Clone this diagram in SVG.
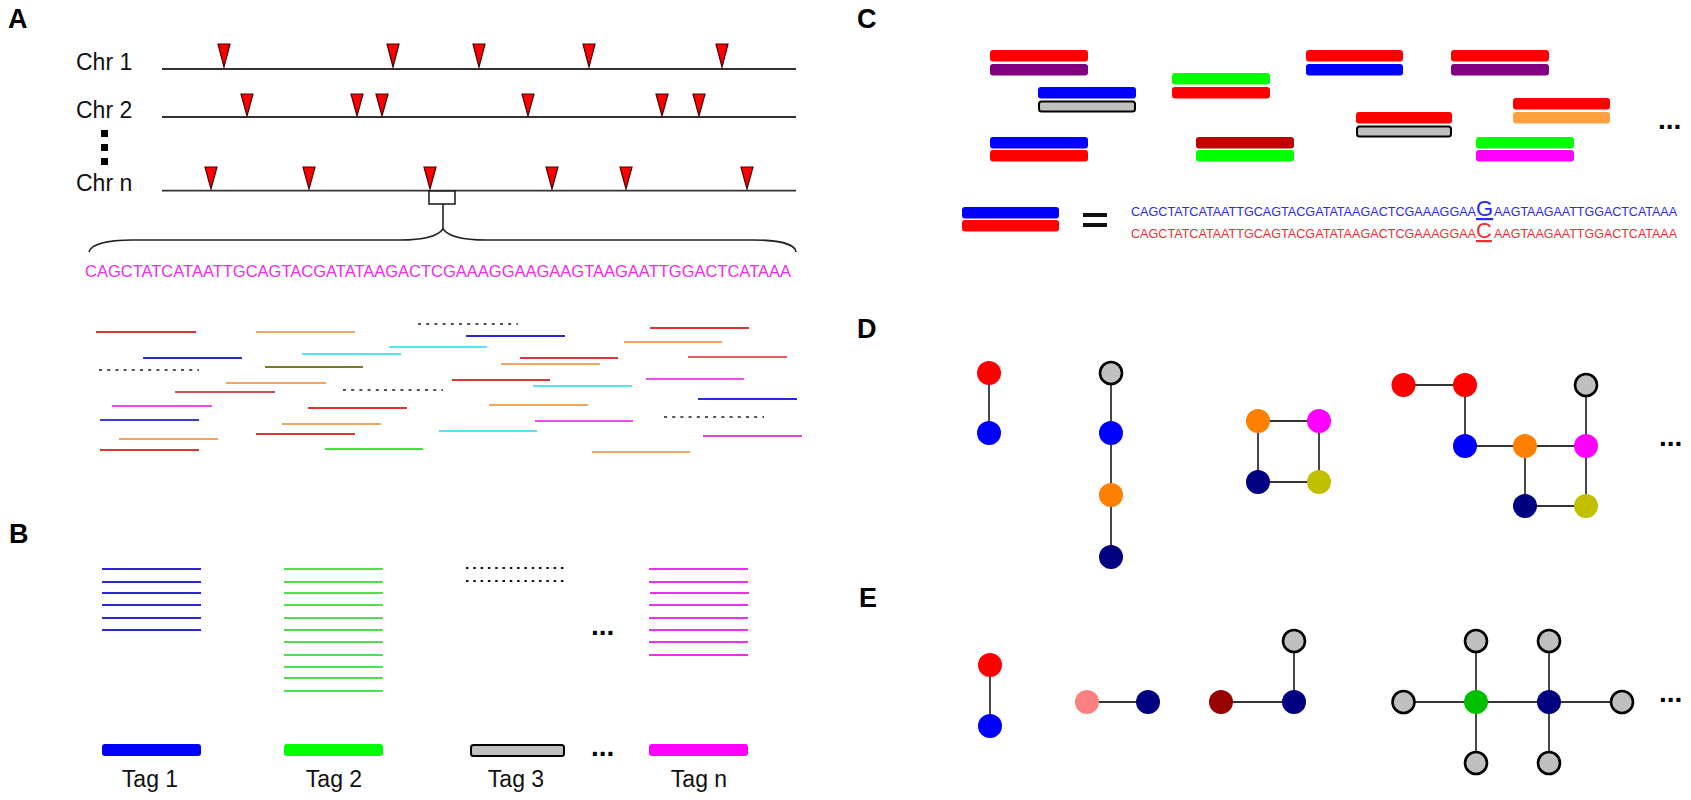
<svg xmlns="http://www.w3.org/2000/svg" width="1691" height="800" viewBox="0 0 1691 800">
<defs>
<style>
text{font-family:"Liberation Sans",Arial,sans-serif;}
.lbl{font-size:27px;font-weight:bold;fill:#000;}
.chr{font-size:23px;fill:#111;}
.tag{font-size:23px;fill:#111;text-anchor:middle;}
.dots{font-size:28px;font-weight:bold;fill:#000;}
.chrline{stroke:#333;stroke-width:1.8;fill:none;}
.tri{fill:#ff0000;stroke:#4a0000;stroke-width:1.2;stroke-linejoin:miter;}
.rd{stroke-width:2;fill:none;}
.dot{stroke:#555;stroke-width:2;stroke-dasharray:3 5.2;fill:none;}
.bl{stroke-width:1.8;fill:none;}
.bdot{stroke:#111;stroke-width:1.8;stroke-dasharray:2.5 4.8;fill:none;}
.bar{stroke:none;}
.gbar{fill:#c0c0c0;stroke:#000;stroke-width:2;}
.edge{stroke:#333;stroke-width:1.8;}
.gnode{fill:#c0c0c0;stroke:#000;stroke-width:2.6;}
</style>
</defs>
<rect width="1691" height="800" fill="#fff"/>

<!-- Panel labels -->
<g id="labels">
<text class="lbl" x="8" y="28">A</text>
<text class="lbl" x="9" y="543">B</text>
<text class="lbl" x="857" y="28">C</text>
<text class="lbl" x="857" y="338">D</text>
<text class="lbl" x="859" y="607">E</text>
</g>

<!-- Panel A: chromosomes -->
<g id="chromosomes">
<text class="chr" x="76" y="70">Chr 1</text>
<text class="chr" x="76" y="118">Chr 2</text>
<text class="chr" x="76" y="191">Chr n</text>
<rect x="101" y="130" width="7" height="7" fill="#000"/>
<rect x="101" y="144" width="7" height="7" fill="#000"/>
<rect x="101" y="158" width="7" height="7" fill="#000"/>
<line class="chrline" x1="162" y1="69" x2="796" y2="69"/>
<line class="chrline" x1="162" y1="117" x2="796" y2="117"/>
<line class="chrline" x1="162" y1="190.7" x2="796" y2="190.7"/>
</g>
<g id="sites">
<polygon class="tri" points="218,44 230,44 224,67"/>
<polygon class="tri" points="387,44 399,44 393,67"/>
<polygon class="tri" points="473,44 485,44 479,67"/>
<polygon class="tri" points="583,44 595,44 589,67"/>
<polygon class="tri" points="716,44 728,44 722,67"/>
<polygon class="tri" points="241,94 253,94 247,116"/>
<polygon class="tri" points="351,94 363,94 357,116"/>
<polygon class="tri" points="376,94 388,94 382,116"/>
<polygon class="tri" points="522,94 534,94 528,116"/>
<polygon class="tri" points="656,94 668,94 662,116"/>
<polygon class="tri" points="693,94 705,94 699,116"/>
<polygon class="tri" points="205,167 217,167 211,189"/>
<polygon class="tri" points="303,167 315,167 309,189"/>
<polygon class="tri" points="424,167 436,167 430,189"/>
<polygon class="tri" points="546,167 558,167 552,189"/>
<polygon class="tri" points="620,167 632,167 626,189"/>
<polygon class="tri" points="741,167 753,167 747,189"/>
</g>
<g id="zoom-brace" fill="none" stroke="#222" stroke-width="1.6">
<rect x="429" y="191" width="26" height="13" fill="#fff"/>
<line x1="443" y1="204" x2="443" y2="229"/>
<path d="M89 252 C91 244 108 240 133 240 L400 240 C425 240 438 236 443 229 C448 236 461 240 486 240 L753 240 C778 240 795 244 796 252"/>
</g>
<text id="seqA" x="85" y="277" font-size="16" fill="#ee2cee" textLength="706" lengthAdjust="spacingAndGlyphs">CAGCTATCATAATTGCAGTACGATATAAGACTCGAAAGGAAGAAGTAAGAATTGGACTCATAAA</text>

<!-- Panel A: reads -->
<g id="reads">
<line class="rd" x1="96" y1="332" x2="196" y2="332" stroke="#e03434"/>
<line class="rd" x1="256" y1="332" x2="355" y2="332" stroke="#f2a55e"/>
<line class="dot" x1="418" y1="324" x2="518" y2="324"/>
<line class="rd" x1="466" y1="336" x2="565" y2="336" stroke="#2a2ad8"/>
<line class="rd" x1="650" y1="328" x2="749" y2="328" stroke="#e03434"/>
<line class="rd" x1="624" y1="342" x2="722" y2="342" stroke="#f2a55e"/>
<line class="rd" x1="389" y1="347" x2="487" y2="347" stroke="#4fe6f0"/>
<line class="rd" x1="302" y1="354" x2="401" y2="354" stroke="#4fe6f0"/>
<line class="rd" x1="143" y1="358" x2="242" y2="358" stroke="#2a2ad8"/>
<line class="rd" x1="520" y1="358" x2="618" y2="358" stroke="#e03434"/>
<line class="rd" x1="688" y1="357" x2="787" y2="357" stroke="#f45a5a"/>
<line class="dot" x1="99" y1="370" x2="199" y2="370"/>
<line class="rd" x1="265" y1="367" x2="363" y2="367" stroke="#7c7c22"/>
<line class="rd" x1="501" y1="364" x2="600" y2="364" stroke="#f2a55e"/>
<line class="rd" x1="452" y1="380" x2="550" y2="380" stroke="#e03434"/>
<line class="rd" x1="646" y1="379" x2="744" y2="379" stroke="#ee4aee"/>
<line class="rd" x1="226" y1="383" x2="326" y2="383" stroke="#f2a55e"/>
<line class="rd" x1="533" y1="386" x2="632" y2="386" stroke="#4fe6f0"/>
<line class="rd" x1="175" y1="392" x2="275" y2="392" stroke="#d05050"/>
<line class="dot" x1="343" y1="390" x2="443" y2="390"/>
<line class="rd" x1="698" y1="399" x2="797" y2="399" stroke="#2a2ad8"/>
<line class="rd" x1="112" y1="406" x2="212" y2="406" stroke="#ee4aee"/>
<line class="rd" x1="308" y1="408" x2="407" y2="408" stroke="#e03434"/>
<line class="rd" x1="489" y1="405" x2="588" y2="405" stroke="#f2a55e"/>
<line class="rd" x1="100" y1="420" x2="199" y2="420" stroke="#3a3ad8"/>
<line class="rd" x1="535" y1="421" x2="633" y2="421" stroke="#ee4aee"/>
<line class="dot" x1="664" y1="417" x2="764" y2="417"/>
<line class="rd" x1="282" y1="424" x2="381" y2="424" stroke="#f2a55e"/>
<line class="rd" x1="119" y1="439" x2="218" y2="439" stroke="#f2a55e"/>
<line class="rd" x1="256" y1="434" x2="355" y2="434" stroke="#e03434"/>
<line class="rd" x1="439" y1="431" x2="537" y2="431" stroke="#4fe6f0"/>
<line class="rd" x1="703" y1="436" x2="802" y2="436" stroke="#d84ad8"/>
<line class="rd" x1="100" y1="450" x2="199" y2="450" stroke="#e03434"/>
<line class="rd" x1="325" y1="449" x2="423" y2="449" stroke="#44e044"/>
<line class="rd" x1="592" y1="452" x2="690" y2="452" stroke="#f2a55e"/>
</g>

<!-- Panel B -->
<g id="tag1-reads" stroke="#2a2ad0">
<line class="bl" x1="102" y1="569" x2="201" y2="569"/>
<line class="bl" x1="102" y1="582" x2="201" y2="582"/>
<line class="bl" x1="102" y1="593" x2="201" y2="593"/>
<line class="bl" x1="102" y1="605" x2="201" y2="605"/>
<line class="bl" x1="102" y1="618" x2="201" y2="618"/>
<line class="bl" x1="102" y1="630" x2="201" y2="630"/>
</g>
<g id="tag2-reads" stroke="#4ee04e">
<line class="bl" x1="284" y1="569" x2="383" y2="569"/>
<line class="bl" x1="284" y1="582" x2="383" y2="582"/>
<line class="bl" x1="284" y1="593" x2="383" y2="593"/>
<line class="bl" x1="284" y1="605" x2="383" y2="605"/>
<line class="bl" x1="284" y1="618" x2="383" y2="618"/>
<line class="bl" x1="284" y1="630" x2="383" y2="630"/>
<line class="bl" x1="284" y1="642" x2="383" y2="642"/>
<line class="bl" x1="284" y1="655" x2="383" y2="655"/>
<line class="bl" x1="284" y1="667" x2="383" y2="667"/>
<line class="bl" x1="284" y1="678" x2="383" y2="678"/>
<line class="bl" x1="284" y1="691" x2="383" y2="691"/>
</g>
<g id="tag3-reads">
<line class="bdot" x1="466" y1="568" x2="566" y2="568"/>
<line class="bdot" x1="466" y1="581" x2="566" y2="581"/>
</g>
<g id="tagn-reads" stroke="#f030f0">
<line class="bl" x1="649" y1="569" x2="748" y2="569"/>
<line class="bl" x1="649" y1="582" x2="748" y2="582"/>
<line class="bl" x1="650" y1="593" x2="749" y2="593"/>
<line class="bl" x1="649" y1="605" x2="748" y2="605"/>
<line class="bl" x1="649" y1="618" x2="748" y2="618"/>
<line class="bl" x1="649" y1="630" x2="748" y2="630"/>
<line class="bl" x1="649" y1="642" x2="748" y2="642"/>
<line class="bl" x1="649" y1="655" x2="748" y2="655"/>
</g>
<text class="dots" x="591" y="635">...</text>
<g id="tag1"><rect class="bar" x="102" y="744" width="99" height="12" rx="3" fill="#0000ff"/><text class="tag" x="150" y="787">Tag 1</text></g>
<g id="tag2"><rect class="bar" x="284" y="744" width="99" height="12" rx="3" fill="#00ff00"/><text class="tag" x="334" y="787">Tag 2</text></g>
<g id="tag3"><rect class="gbar" x="471" y="745" width="93" height="11" rx="2.5"/><text class="tag" x="516" y="787">Tag 3</text></g>
<text class="dots" x="591" y="756">...</text>
<g id="tagn"><rect class="bar" x="649" y="744" width="99" height="12" rx="3" fill="#ff00ff"/><text class="tag" x="699" y="787">Tag n</text></g>

<!-- Panel C -->
<g id="pair1"><rect x="990" y="50" width="98" height="11.5" rx="3" fill="#ff0000"/><rect x="990" y="64" width="98" height="11.5" rx="3" fill="#800080"/></g>
<g id="pair2"><rect x="1038" y="87" width="98" height="11.5" rx="3" fill="#0000ff"/><rect class="gbar" x="1039" y="101.5" width="96" height="10" rx="2.5"/></g>
<g id="pair3"><rect x="1172" y="73" width="98" height="11.5" rx="3" fill="#00ff00"/><rect x="1172" y="87" width="98" height="11.5" rx="3" fill="#ff0000"/></g>
<g id="pair4"><rect x="1306" y="50" width="97" height="11.5" rx="3" fill="#ff0000"/><rect x="1306" y="64" width="97" height="11.5" rx="3" fill="#0000ff"/></g>
<g id="pair5"><rect x="1451" y="50" width="98" height="11.5" rx="3" fill="#ff0000"/><rect x="1451" y="64" width="98" height="11.5" rx="3" fill="#800080"/></g>
<g id="pair6"><rect x="1356" y="112" width="96" height="11.5" rx="3" fill="#ff0000"/><rect class="gbar" x="1357" y="126.5" width="94" height="10" rx="2.5"/></g>
<g id="pair7"><rect x="1513" y="98" width="97" height="11.5" rx="3" fill="#ff0000"/><rect x="1513" y="112" width="97" height="11.5" rx="3" fill="#ffa040"/></g>
<g id="pair8"><rect x="990" y="137" width="98" height="11.5" rx="3" fill="#0000ff"/><rect x="990" y="150" width="98" height="11.5" rx="3" fill="#ff0000"/></g>
<g id="pair9"><rect x="1196" y="137" width="98" height="11.5" rx="3" fill="#c00000"/><rect x="1196" y="150" width="98" height="11.5" rx="3" fill="#00ff00"/></g>
<g id="pair10"><rect x="1476" y="137" width="98" height="11.5" rx="3" fill="#00ff00"/><rect x="1476" y="150" width="98" height="11.5" rx="3" fill="#ff00ff"/></g>
<text class="dots" x="1658" y="129">...</text>
<g id="legend">
<rect x="962" y="207" width="97" height="11.5" rx="3" fill="#0000ff"/>
<rect x="962" y="220" width="97" height="11.5" rx="3" fill="#ff0000"/>
<rect x="1083" y="213" width="24" height="4" fill="#111"/>
<rect x="1083" y="223" width="24" height="4" fill="#111"/>
<text x="1131" y="216" font-size="12" fill="#2a2af0" textLength="345" lengthAdjust="spacingAndGlyphs">CAGCTATCATAATTGCAGTACGATATAAGACTCGAAAGGAA</text>
<text x="1476" y="216" font-size="22" fill="#2a2af0" text-decoration="underline">G</text>
<text x="1494" y="216" font-size="12" fill="#2a2af0" textLength="183" lengthAdjust="spacingAndGlyphs">AAGTAAGAATTGGACTCATAAA</text>
<text x="1131" y="238" font-size="12" fill="#f03030" textLength="345" lengthAdjust="spacingAndGlyphs">CAGCTATCATAATTGCAGTACGATATAAGACTCGAAAGGAA</text>
<text x="1476" y="238" font-size="22" fill="#f03030" text-decoration="underline">C</text>
<text x="1494" y="238" font-size="12" fill="#f03030" textLength="183" lengthAdjust="spacingAndGlyphs">AAGTAAGAATTGGACTCATAAA</text>
</g>

<!-- Panels D and E: connectors -->
<g id="connectors">
<line class="edge" x1="989" y1="373" x2="989" y2="433"/>
<line class="edge" x1="1111" y1="373" x2="1111" y2="557"/>
<line class="edge" x1="1258" y1="421" x2="1319" y2="421"/>
<line class="edge" x1="1258" y1="482" x2="1319" y2="482"/>
<line class="edge" x1="1258" y1="421" x2="1258" y2="482"/>
<line class="edge" x1="1319" y1="421" x2="1319" y2="482"/>
<line class="edge" x1="1403.5" y1="385" x2="1465" y2="385"/>
<line class="edge" x1="1465" y1="385" x2="1465" y2="446"/>
<line class="edge" x1="1465" y1="446" x2="1586" y2="446"/>
<line class="edge" x1="1586" y1="385" x2="1586" y2="506"/>
<line class="edge" x1="1525" y1="446" x2="1525" y2="506"/>
<line class="edge" x1="1525" y1="506" x2="1586" y2="506"/>
<line class="edge" x1="990" y1="665" x2="990" y2="726"/>
<line class="edge" x1="1087" y1="702" x2="1148" y2="702"/>
<line class="edge" x1="1221" y1="702" x2="1294" y2="702"/>
<line class="edge" x1="1294" y1="641" x2="1294" y2="702"/>
<line class="edge" x1="1403.5" y1="702" x2="1622" y2="702"/>
<line class="edge" x1="1476" y1="641" x2="1476" y2="763"/>
<line class="edge" x1="1549" y1="641" x2="1549" y2="763"/>
</g>

<!-- Panel D nodes -->
<g id="d1-red"><circle cx="989" cy="373" r="12" fill="#ff0000"/></g>
<g id="d1-blue"><circle cx="989" cy="433" r="12" fill="#0000ff"/></g>
<g id="d2-gray"><circle class="gnode" cx="1111" cy="373" r="11"/></g>
<g id="d2-blue"><circle cx="1111" cy="433" r="12" fill="#0000ff"/></g>
<g id="d2-orange"><circle cx="1111" cy="495" r="12" fill="#ff8000"/></g>
<g id="d2-navy"><circle cx="1111" cy="557" r="12" fill="#000080"/></g>
<g id="d3-orange"><circle cx="1258" cy="421" r="12" fill="#ff8000"/></g>
<g id="d3-magenta"><circle cx="1319" cy="421" r="12" fill="#ff00ff"/></g>
<g id="d3-navy"><circle cx="1258" cy="482" r="12" fill="#000080"/></g>
<g id="d3-olive"><circle cx="1319" cy="482" r="12" fill="#c0c000"/></g>
<g id="d4-red1"><circle cx="1403.5" cy="385" r="12" fill="#ff0000"/></g>
<g id="d4-red2"><circle cx="1465" cy="385" r="12" fill="#ff0000"/></g>
<g id="d4-gray"><circle class="gnode" cx="1586" cy="385" r="11"/></g>
<g id="d4-blue"><circle cx="1465" cy="446" r="12" fill="#0000ff"/></g>
<g id="d4-orange"><circle cx="1525" cy="446" r="12" fill="#ff8000"/></g>
<g id="d4-magenta"><circle cx="1586" cy="446" r="12" fill="#ff00ff"/></g>
<g id="d4-navy"><circle cx="1525" cy="506" r="12" fill="#000080"/></g>
<g id="d4-olive"><circle cx="1586" cy="506" r="12" fill="#c0c000"/></g>
<text class="dots" x="1659" y="446">...</text>

<!-- Panel E nodes -->
<g id="e1-red"><circle cx="990" cy="665" r="12" fill="#ff0000"/></g>
<g id="e1-blue"><circle cx="990" cy="726" r="12" fill="#0000ff"/></g>
<g id="e2-pink"><circle cx="1087" cy="702" r="12" fill="#ff8080"/></g>
<g id="e2-navy"><circle cx="1148" cy="702" r="12" fill="#000080"/></g>
<g id="e3-darkred"><circle cx="1221" cy="702" r="12" fill="#990000"/></g>
<g id="e3-navy"><circle cx="1294" cy="702" r="12" fill="#000080"/></g>
<g id="e3-gray"><circle class="gnode" cx="1294" cy="641" r="11"/></g>
<g id="e4-gray-left"><circle class="gnode" cx="1403.5" cy="702" r="11"/></g>
<g id="e4-green"><circle cx="1476" cy="702" r="12" fill="#00c000"/></g>
<g id="e4-navy"><circle cx="1549" cy="702" r="12" fill="#000080"/></g>
<g id="e4-gray-right"><circle class="gnode" cx="1622" cy="702" r="11"/></g>
<g id="e4-gray-t1"><circle class="gnode" cx="1476" cy="641" r="11"/></g>
<g id="e4-gray-t2"><circle class="gnode" cx="1549" cy="641" r="11"/></g>
<g id="e4-gray-b1"><circle class="gnode" cx="1476" cy="763" r="11"/></g>
<g id="e4-gray-b2"><circle class="gnode" cx="1549" cy="763" r="11"/></g>
<text class="dots" x="1659" y="702">...</text>
</svg>
